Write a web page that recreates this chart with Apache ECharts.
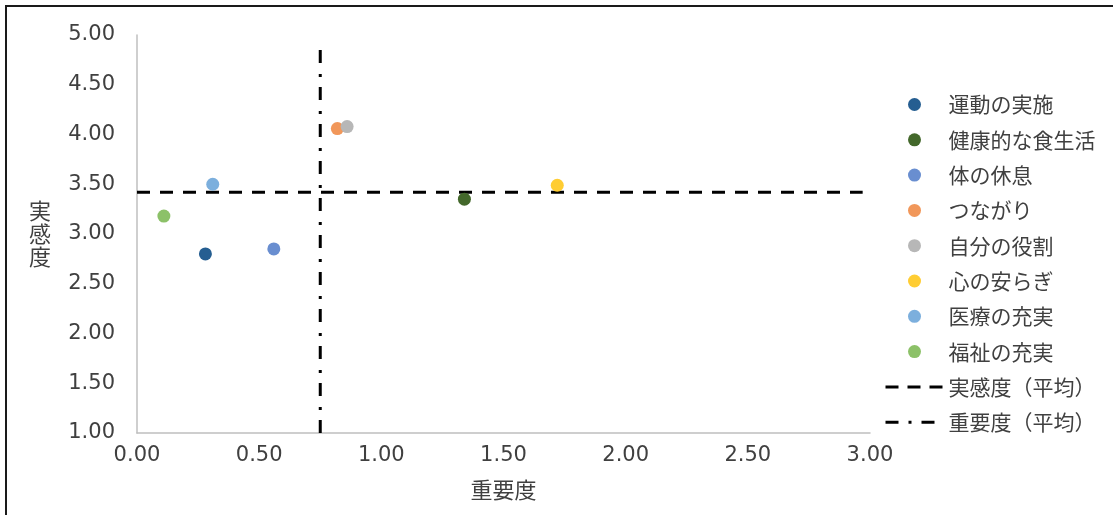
<!DOCTYPE html>
<html>
<head>
<meta charset="utf-8">
<script src="https://cdn.jsdelivr.net/npm/echarts@6/dist/echarts.min.js"></script>
<style>
html,body{margin:0;padding:0;background:#fff;}
#chart{width:1113px;height:515px;}
</style>
</head>
<body>
<div id="chart"></div>
<script>
var names = ['運動の実施','健康的な食生活','体の休息','つながり','自分の役割','心の安らぎ','医療の充実','福祉の充実'];
var importance = [0.28, 1.34, 0.56, 0.82, 0.86, 1.72, 0.31, 0.11];
var satisfaction = [2.80, 3.35, 2.85, 4.06, 4.08, 3.49, 3.50, 3.18];
var colors = ['#255E91','#43682B','#698ED0','#F1975A','#B7B7B7','#FFCD33','#7CAFDD','#8CC168'];
var avgSatName = '実感度（平均）';
var avgSatLine = [[0, 3.42], [2.97, 3.42]];
var avgImpName = '重要度（平均）';
var avgImpLine = [[0.75, 1.0], [0.75, 4.9]];

var FONT = '"Noto Sans CJK JP", sans-serif';
var NUMFONT = '"DejaVu Sans", sans-serif';
var series = names.map(function(n, i){
  return {
    name: n, type: 'scatter', symbol: 'circle', symbolSize: 13,
    itemStyle: {color: colors[i], opacity: 1},
    data: [[importance[i], satisfaction[i]]],
    z: 3
  };
});
series.push({
  name: avgSatName, type: 'line', symbol: 'none', data: avgSatLine,
  lineStyle: {color: '#000', width: 3, type: [13, 10], cap: 'butt'},
  itemStyle: {color: '#000'}, z: 2, silent: true
});
series.push({
  name: avgImpName, type: 'line', symbol: 'none', data: avgImpLine,
  lineStyle: {color: '#000', width: 3, type: [13, 10, 3, 11], cap: 'butt'},
  itemStyle: {color: '#000'}, z: 2, silent: true
});

var legendData = names.map(function(n){ return {name: n}; });
legendData.push({name: avgSatName, itemStyle: {opacity: 0}, lineStyle: {type: [13, 9], width: 3, color: '#000'}});
legendData.push({name: avgImpName, itemStyle: {opacity: 0}, lineStyle: {type: [13, 10, 3, 10], width: 3, color: '#000'}});

var chart = echarts.init(document.getElementById('chart'), null, {renderer: 'canvas'});
chart.setOption({
  animation: false,
  backgroundColor: '#fff',
  textStyle: {fontFamily: FONT},
  grid: {left: 137, right: 243, top: 35, bottom: 82},
  xAxis: {
    type: 'value', min: 0, max: 3, interval: 0.5,
    name: '重要度', nameLocation: 'middle', nameGap: 46,
    nameTextStyle: {fontSize: 22, color: '#404040', fontFamily: FONT},
    axisLine: {show: true, onZero: false, lineStyle: {color: '#bfbfbf', width: 1.5}},
    axisTick: {show: false},
    splitLine: {show: false},
    axisLabel: {fontSize: 21, color: '#404040', margin: 12, fontFamily: NUMFONT,
      formatter: function(v){return v.toFixed(2);}}
  },
  yAxis: {
    type: 'value', min: 1, max: 5, interval: 0.5,
    name: '実\n感\n度', nameLocation: 'middle', nameRotate: 0, nameGap: 97,
    nameTextStyle: {fontSize: 22, color: '#404040', lineHeight: 23, align: 'center', verticalAlign: 'middle', fontFamily: FONT},
    axisLine: {show: true, onZero: false, lineStyle: {color: '#bfbfbf', width: 1.5}},
    axisTick: {show: false},
    splitLine: {show: false},
    axisLabel: {fontSize: 21, color: '#404040', margin: 22, fontFamily: NUMFONT,
      formatter: function(v){return v.toFixed(2);}}
  },
  legend: {
    orient: 'vertical', left: 879, top: 89,
    itemWidth: 58, itemHeight: 13, itemGap: 14.3,
    textStyle: {fontSize: 21, color: '#404040', lineHeight: 21, fontFamily: FONT},
    data: legendData
  },
  graphic: [{
    type: 'rect', shape: {x: 6, y: 6, width: 1200, height: 600},
    style: {fill: 'none', stroke: '#1a1a1a', lineWidth: 2}, silent: true
  }],
  series: series
});
</script>
</body>
</html>
